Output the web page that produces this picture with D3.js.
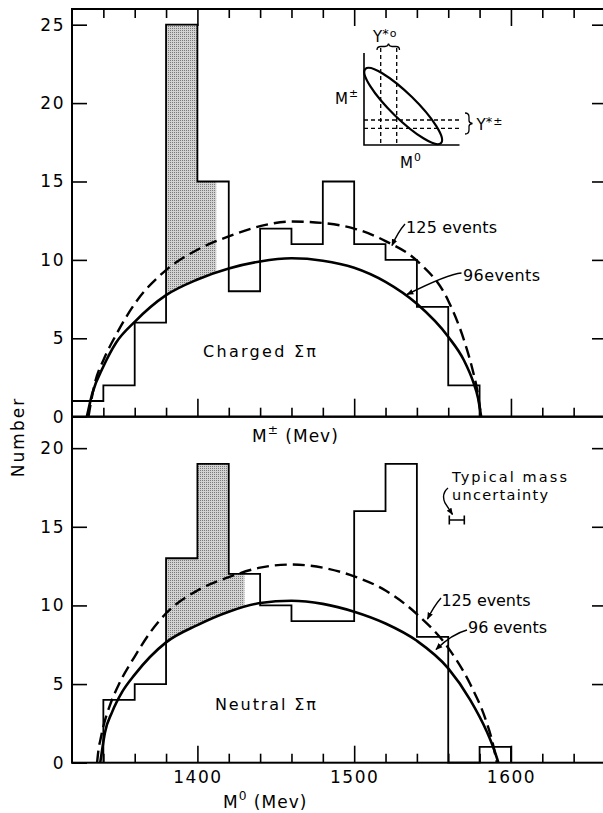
<!DOCTYPE html>
<html><head><meta charset="utf-8">
<script src="https://cdn.jsdelivr.net/npm/d3@7"></script>
<style>html,body{margin:0;padding:0;background:#fff;} svg{display:block;font-family:"DejaVu Sans",sans-serif;}</style>
</head><body><svg id="c" width="603" height="813"></svg>
<script>
// ---------- data ----------
const binWidth = 20;
const chargedBins = [1320,1340,1360,1380,1400,1420,1440,1460,1480,1500,1520,1540,1560];
const chargedCounts = [1,2,6,25,15,8,12,11,15,11,10,7,2];
const neutralBins = [1340,1360,1380,1400,1420,1440,1460,1480,1500,1520,1540,1560,1580];
const neutralCounts = [4,5,13,19,12,10,9,9,16,19,8,0,1];
const chargedShade = [1380,1412];
const neutralShade = [1380,1430];

const chargedM96 = [1329.5,1333,1340,1348,1360,1380,1400,1420,1440,1460,1480,1500,1520,1540,1560,1570,1576,1579,1581];
const chargedV96 = [0,1.5,3.2,4.7,6.05,7.75,8.75,9.45,9.9,10.1,9.95,9.5,8.6,7.2,5.1,3.6,2.2,1.2,0];
const chargedM125 = [1330.5,1333,1335,1340,1348,1360,1380,1400,1420,1440,1460,1480,1500,1520,1540,1560,1570,1575,1579,1581];
const chargedV125 = [0,1.4,2.3,3.6,5.2,7.2,9.35,10.65,11.5,12.15,12.45,12.35,12.0,11.2,9.95,7.4,4.9,3.2,1.4,0];
const neutralM96 = [1338,1339.5,1341,1345.5,1352,1360,1380,1400,1420,1440,1460,1480,1500,1520,1540,1560,1574,1584.5,1589,1592];
const neutralV96 = [0,1.0,1.9,3.2,4.5,5.6,7.65,8.75,9.6,10.15,10.3,10.1,9.6,8.85,7.75,6.0,4.0,2.0,0.9,0];
const neutralM125 = [1336,1337,1338,1340,1344,1350,1360,1370,1380,1400,1420,1440,1460,1480,1500,1520,1540,1560,1574,1584,1588,1591];
const neutralV125 = [0,0.9,1.4,2.3,3.6,5.0,6.75,8.3,9.5,10.95,11.8,12.4,12.6,12.4,11.85,10.95,9.45,7.3,5.0,2.7,1.4,0];

const massTicksMinor = [1340,1360,1380,1420,1440,1460,1480,1520,1540,1560,1580,1620,1640];
const massTicksMajor = [1400,1500,1600];
const chargedYTicks = [0,5,10,15,20,25];
const neutralYTicks = [0,5,10,15,20];

// ---------- scales ----------
const svg = d3.select("#c");
const x = d3.scaleLinear().domain([1320,1660]).range([72,605]);
const yC = d3.scaleLinear().domain([0,26]).range([416.7,9]);
const yN = d3.scaleLinear().domain([0,22]).range([762.7,416.7]);

// pattern for stipple
const defs = svg.append("defs");
const pat = defs.append("pattern").attr("id","stip").attr("width",2).attr("height",2).attr("patternUnits","userSpaceOnUse");
pat.append("rect").attr("width",2).attr("height",2).attr("fill","#d2d2d2");
pat.append("rect").attr("width",1).attr("height",1).attr("fill","#7a7a7a");
defs.append("marker").attr("id","arr").attr("viewBox","0 0 10 10").attr("refX",9).attr("refY",5)
  .attr("markerWidth",7).attr("markerHeight",7).attr("markerUnits","userSpaceOnUse").attr("orient","auto")
  .append("path").attr("d","M0,1 L10,5 L0,9 Z").attr("fill","#000");

const zip = (a,b)=>a.map((v,i)=>[v,b[i]]);

function stepPath(bins, counts, y){
  const p = d3.path();
  p.moveTo(x(bins[0]), y(0));
  bins.forEach((b,i)=>{ p.lineTo(x(b), y(counts[i])); p.lineTo(x(b+binWidth), y(counts[i])); });
  p.lineTo(x(bins[bins.length-1]+binWidth), y(0));
  return p.toString();
}
function shadePoly(bins, counts, s, e, y){
  const pts = [[x(s), y(0)]];
  bins.forEach((b,i)=>{
    const lo = Math.max(b,s), hi = Math.min(b+binWidth,e);
    if(lo<hi){ pts.push([x(lo), y(counts[i])]); pts.push([x(hi), y(counts[i])]); }
  });
  pts.push([x(e), y(0)]);
  return "M"+pts.map(p=>p.join(",")).join("L")+"Z";
}

function panel(id, bins, counts, shade, m96, v96, m125, v125, y){
  defs.append("clipPath").attr("id","clip"+id).append("path").attr("d", shadePoly(bins,counts,shade[0],shade[1],y));
  const area = d3.area().x(d=>x(d[0])).y0(d=>y(d[1])).y1(y.range()[1]).curve(d3.curveMonotoneX);
  svg.append("path").attr("d", area(zip(m96,v96))).attr("fill","url(#stip)").attr("clip-path","url(#clip"+id+")");
  svg.append("path").attr("d", stepPath(bins,counts,y)).attr("fill","none").attr("stroke","#000").attr("stroke-width",1.8);
  const line = d3.line().x(d=>x(d[0])).y(d=>y(d[1])).curve(d3.curveMonotoneX);
  svg.append("path").attr("d", line(zip(m96,v96))).attr("fill","none").attr("stroke","#000").attr("stroke-width",2.6);
  svg.append("path").attr("d", line(zip(m125,v125))).attr("fill","none").attr("stroke","#000").attr("stroke-width",2.4).attr("stroke-dasharray","12,6");
}
panel("C", chargedBins, chargedCounts, chargedShade, chargedM96, chargedV96, chargedM125, chargedV125, yC);
panel("N", neutralBins, neutralCounts, neutralShade, neutralM96, neutralV96, neutralM125, neutralV125, yN);

// frames
svg.append("rect").attr("x",x(1320)).attr("y",yC(26)).attr("width",x(1660)-x(1320)).attr("height",yC(0)-yC(26))
  .attr("fill","none").attr("stroke","#000").attr("stroke-width",2);
svg.append("rect").attr("x",x(1320)).attr("y",yN(22)).attr("width",x(1660)-x(1320)).attr("height",yN(0)-yN(22))
  .attr("fill","none").attr("stroke","#000").attr("stroke-width",2);

function styleAxis(g){
  g.select(".domain").remove();
  g.selectAll(".tick line").attr("stroke","#000").attr("stroke-width",1.6);
  g.selectAll("text").attr("fill","#000").style("font-family","'DejaVu Sans',sans-serif").style("font-size","17px").style("letter-spacing","1.5px");
}
// left axes
svg.append("g").attr("transform",`translate(${x(1320)},0)`).call(d3.axisLeft(yC).tickValues(chargedYTicks).tickSize(-15).tickPadding(7)).call(styleAxis);
svg.append("g").attr("transform",`translate(${x(1320)},0)`).call(d3.axisLeft(yN).tickValues(neutralYTicks).tickSize(-15).tickPadding(7)).call(styleAxis);
// right axes
svg.append("g").attr("transform",`translate(${x(1660)},0)`).call(d3.axisRight(yC).tickValues(chargedYTicks.slice(1)).tickSize(-13).tickFormat("")).call(styleAxis);
svg.append("g").attr("transform",`translate(${x(1660)},0)`).call(d3.axisRight(yN).tickValues(neutralYTicks.slice(1)).tickSize(-13).tickFormat("")).call(styleAxis);
// top of charged panel
svg.append("g").attr("transform",`translate(0,${yC(26)})`).call(d3.axisTop(x).tickValues(massTicksMinor).tickSize(-9).tickFormat("")).call(styleAxis);
svg.append("g").attr("transform",`translate(0,${yC(26)})`).call(d3.axisTop(x).tickValues(massTicksMajor).tickSize(-17).tickFormat("")).call(styleAxis);
// bottom of charged panel
svg.append("g").attr("transform",`translate(0,${yC(0)})`).call(d3.axisBottom(x).tickValues(massTicksMinor).tickSize(-9).tickFormat("")).call(styleAxis);
svg.append("g").attr("transform",`translate(0,${yC(0)})`).call(d3.axisBottom(x).tickValues(massTicksMajor).tickSize(-18).tickFormat("")).call(styleAxis);
// bottom of neutral panel
svg.append("g").attr("transform",`translate(0,${yN(0)})`).call(d3.axisBottom(x).tickValues(massTicksMinor).tickSize(-9).tickFormat("")).call(styleAxis);
svg.append("g").attr("transform",`translate(0,${yN(0)})`).call(d3.axisBottom(x).tickValues(massTicksMajor).tickSize(-17).tickPadding(8).tickFormat(d3.format("d"))).call(styleAxis);

// ---------- text ----------
function txt(s, xx, yy, size, opts={}){
  const t = svg.append("text").attr("x",xx).attr("y",yy).attr("font-size",size).attr("fill","#000");
  if(opts.len) t.attr("textLength",opts.len).attr("lengthAdjust","spacing");
  if(opts.anchor) t.attr("text-anchor",opts.anchor);
  t.text(s);
  return t;
}
// Number
svg.append("text").attr("transform","translate(24,437) rotate(-90)").attr("text-anchor","middle")
  .attr("font-size",17).attr("letter-spacing","2px").text("Number");

// axis titles with superscripts
function supLabel(xx, yy, base, sup, rest, size){
  const t = svg.append("text").attr("x",xx).attr("y",yy).attr("font-size",size).attr("letter-spacing","1px");
  t.append("tspan").text(base);
  t.append("tspan").attr("font-size",size*0.72).attr("dy",-size*0.45).text(sup);
  if(rest) t.append("tspan").attr("dy",size*0.45).text(rest);
  return t;
}
supLabel(252, 441.5, "M", "±", " (Mev)", 17);
supLabel(223, 808, "M", "0", " (Mev)", 17);

txt("Charged  Σπ", 203, 357, 16, {len:113});
txt("Neutral  Σπ", 215, 710, 16, {len:101});
txt("125 events", 406, 232.5, 16, {len:91});
txt("96events", 463, 281, 16, {len:77});
txt("125 events", 441.5, 606, 16, {len:89});
txt("96 events", 468, 633, 16, {len:79});
txt("Typical  mass", 452, 482, 14.5, {len:115});
txt("uncertainty", 452, 500, 14.5, {len:96});

// leader arrows
const arrow = d => svg.append("path").attr("d",d).attr("fill","none").attr("stroke","#000").attr("stroke-width",1.4).attr("marker-end","url(#arr)");
arrow("M405,224 Q398,232 392,245.5");
arrow("M461.5,273 Q448,274 407,294.5");
arrow("M441,598 Q434,606 427.5,619");
arrow("M467,630 Q452,634 436,649.5");
arrow("M448,488 Q441,494 445,503 L452.5,514.5");
// typical mass uncertainty bar
svg.append("path").attr("d","M449.3,520 H464.3 M449.3,515.5 V524.5 M464.3,515.5 V524.5").attr("stroke","#000").attr("stroke-width",1.6).attr("fill","none");

// ---------- inset ----------
const ins = svg.append("g");
ins.append("path").attr("d","M364,53 V145 H459.5").attr("fill","none").attr("stroke","#000").attr("stroke-width",1.6);
ins.append("ellipse").attr("cx",403.2).attr("cy",106).attr("rx",53).attr("ry",12.5)
  .attr("transform","rotate(44.4 403.2 106)").attr("fill","none").attr("stroke","#000").attr("stroke-width",2.2);
ins.append("path").attr("d","M380.7,48 V145 M396.7,48 V145 M364,120 H459.5 M364,128.3 H459.5")
  .attr("fill","none").attr("stroke","#000").attr("stroke-width",1.3).attr("stroke-dasharray","4,3");
ins.append("path").attr("d","M377,50 Q377,46.5 381,46.5 L385,46.5 Q388,46.5 388.5,43.5 Q389,46.5 392,46.5 L396,46.5 Q399.5,46.5 399.5,50")
  .attr("fill","none").attr("stroke","#000").attr("stroke-width",1.3);
ins.append("path").attr("d","M465,113 Q469,113 469,117 L469,120.5 Q469,123 472.5,123.5 Q469,124 469,126.5 L469,130 Q469,134 465,134")
  .attr("fill","none").attr("stroke","#000").attr("stroke-width",1.3);
function ystar(xx, yy, sup){
  const t = svg.append("text").attr("x",xx).attr("y",yy).attr("font-size",15);
  t.append("tspan").text("Y");
  t.append("tspan").attr("font-size",13).attr("dy",-4).text("*");
  t.append("tspan").attr("font-size",11).attr("dy",-1).attr("dx",1).text(sup);
}
ystar(373, 42, "o");
ystar(476.5, 130, "±");
supLabel(335, 104, "M", "±", null, 15);
supLabel(400, 168, "M", "0", null, 15);
</script></body></html>
